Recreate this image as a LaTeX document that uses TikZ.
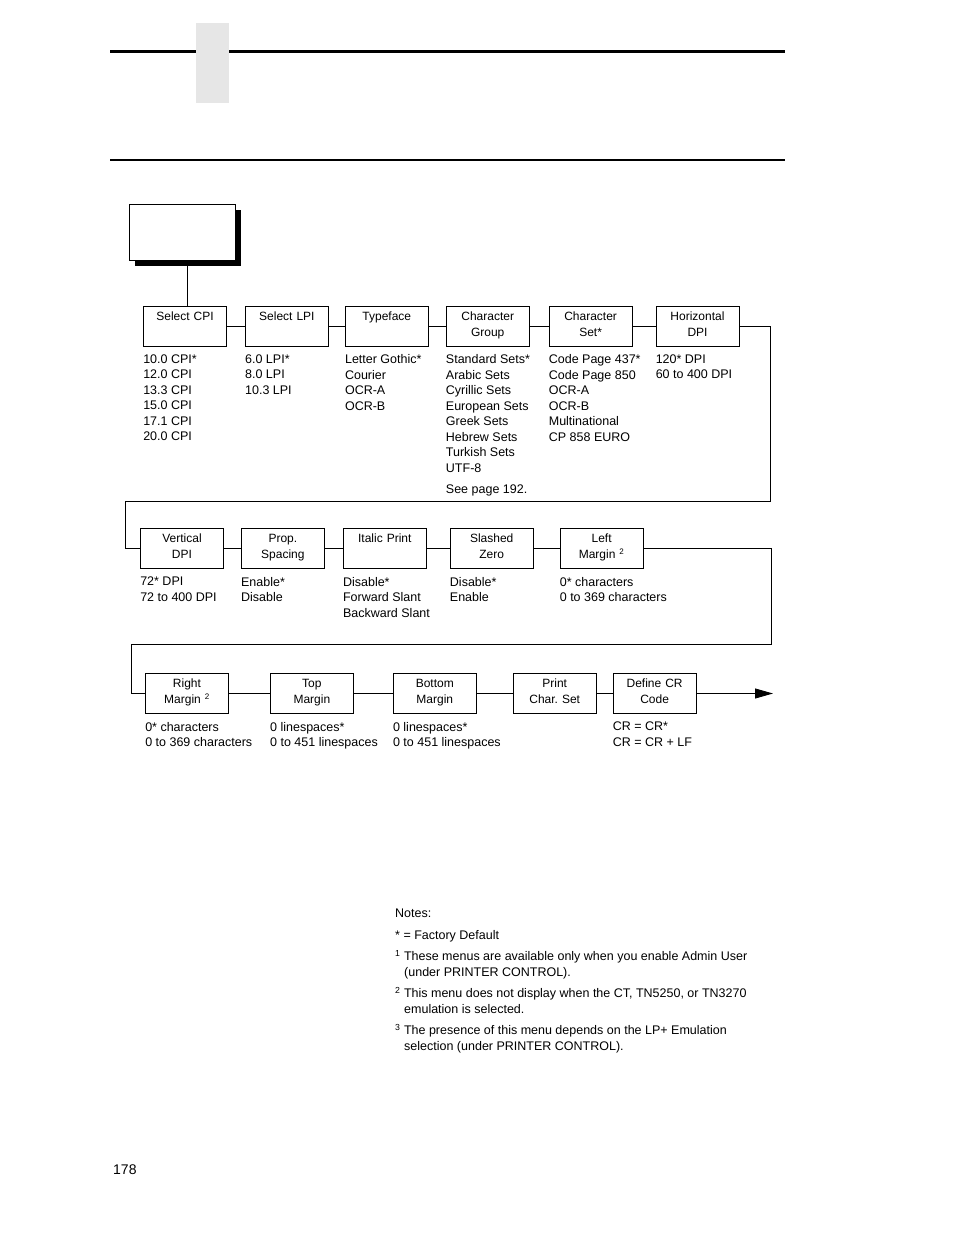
\documentclass[tikz,border=0pt]{standalone}
\usepackage{fontspec}
\setmainfont{Liberation Sans}
\usepackage{tikz}
\usetikzlibrary{positioning,shadows,arrows.meta}
\definecolor{tabgray}{HTML}{E6E6E6}
\frenchspacing

\begin{document}
\begin{tikzpicture}
 [x=1pt, y=-1pt,
  menu box/.style={draw, line width=0.9pt, text width=75pt, align=center, inner xsep=4pt, inner ysep=4pt,
    text height=10pt, text depth=22pt, font=\fontsize{12}{16}\selectfont},
  option list/.style={align=left, inner sep=0pt, font=\fontsize{12.5}{15.5}\selectfont},
  link/.style={line width=0.9pt}]

\useasboundingbox (0,0) rectangle (954,1235);

% page header
\draw[line width=3pt] (110,51) -- (785,51);
\fill[tabgray] (196,23) rectangle (229,103);
\draw[line width=1.2pt] (110,160) -- (785,160);

\node[draw, fill=white, line width=0.9pt, minimum width=106pt, minimum height=56pt,
  drop shadow={shadow xshift=6pt, shadow yshift=-6pt, fill=black, opacity=1}] (menu) at (182,232) {};

% first row
\node[menu box] (cpi) at (185,326) {Select CPI};
\node[menu box] (lpi) [right=18pt of cpi] {Select LPI};
\node[menu box] (type) [right=16pt of lpi] {Typeface};
\node[menu box] (cgroup) [right=17pt of type] {Character\\Group};
\node[menu box] (cset) [right=19pt of cgroup] {Character\\Set*};
\node[menu box] (hdpi) [right=23pt of cset] {Horizontal\\DPI};

\node[option list] (cpiopt) [below=8pt of cpi.south west, anchor=north west] {10.0 CPI*\\12.0 CPI\\13.3 CPI\\15.0 CPI\\17.1 CPI\\20.0 CPI};
\node[option list] (lpiopt) [below=8pt of lpi.south west, anchor=north west] {6.0 LPI*\\8.0 LPI\\10.3 LPI};
\node[option list] (typeopt) [below=8pt of type.south west, anchor=north west] {Letter Gothic*\\Courier\\OCR-A\\OCR-B};
\node[option list] (cgroupopt) [below=8pt of cgroup.south west, anchor=north west] {Standard Sets*\\Arabic Sets\\Cyrillic Sets\\European Sets\\Greek Sets\\Hebrew Sets\\Turkish Sets\\UTF-8\\[6pt]See page 192.};
\node[option list] (csetopt) [below=8pt of cset.south west, anchor=north west] {Code Page 437*\\Code Page 850\\OCR-A\\OCR-B\\Multinational\\CP 858 EURO};
\node[option list] (hdpiopt) [below=8pt of hdpi.south west, anchor=north west] {120* DPI\\60 to 400 DPI};

% second row
\node[menu box] (vdpi) at (182,548.5) {Vertical\\DPI};
\node[menu box] (prop) [right=17pt of vdpi] {Prop.\\Spacing};
\node[menu box] (italic) [right=18pt of prop] {Italic Print};
\node[menu box] (slashed) [right=23pt of italic] {Slashed\\Zero};
\node[menu box] (lmargin) [right=26pt of slashed] {Left\\Margin \textsuperscript{2}};

\node[option list] (vdpiopt) [below=8pt of vdpi.south west, anchor=north west] {72* DPI\\72 to 400 DPI};
\node[option list] (propopt) [below=8pt of prop.south west, anchor=north west] {Enable*\\Disable};
\node[option list] (italicopt) [below=8pt of italic.south west, anchor=north west] {Disable*\\Forward Slant\\Backward Slant};
\node[option list] (slashedopt) [below=8pt of slashed.south west, anchor=north west] {Disable*\\Enable};
\node[option list] (lmarginopt) [below=8pt of lmargin.south west, anchor=north west] {0* characters\\0 to 369 characters};

% third row
\node[menu box] (rmargin) at (187,693.5) {Right\\Margin \textsuperscript{2}};
\node[menu box] (top) [right=41pt of rmargin] {Top\\Margin};
\node[menu box] (bottom) [right=39pt of top] {Bottom\\Margin};
\node[menu box] (print) [right=36pt of bottom] {Print\\Char. Set};
\node[menu box] (crcode) [right=16pt of print] {Define CR\\Code};

\node[option list] (rmarginopt) [below=8pt of rmargin.south west, anchor=north west] {0* characters\\0 to 369 characters};
\node[option list] (topopt) [below=8pt of top.south west, anchor=north west] {0 linespaces*\\0 to 451 linespaces};
\node[option list] (bottomopt) [below=8pt of bottom.south west, anchor=north west] {0 linespaces*\\0 to 451 linespaces};
\node[option list] (crcodeopt) [below=8pt of crcode.south west, anchor=north west] {CR = CR*\\CR = CR + LF};

\coordinate (more) at (773,693.5);

\draw[link] ([xshift=5pt]menu.south) -- ([xshift=2pt]cpi.north);
\path[link]
  (cpi) edge (lpi)
  (lpi) edge (type)
  (type) edge (cgroup)
  (cgroup) edge (cset)
  (cset) edge (hdpi)
  (vdpi) edge (prop)
  (prop) edge (italic)
  (italic) edge (slashed)
  (slashed) edge (lmargin)
  (rmargin) edge (top)
  (top) edge (bottom)
  (bottom) edge (print)
  (print) edge (crcode);
\draw[link] (hdpi.east) -| (770,501) -| (125,548.5) -- (vdpi.west);
\draw[link] (lmargin.east) -| (771,644) -| (131,693.5) -- (rmargin.west);
\draw[link, -{Triangle[length=18pt, width=10pt]}] (crcode.east) -- (more);

% notes
\node[option list, anchor=north west] (notes) at (395,909)
  {Notes:\\[6pt]
   * = Factory Default\\[6pt]
   \textsuperscript{1} These menus are available only when you enable Admin User\\
   \hspace*{9pt}(under PRINTER CONTROL).\\[6pt]
   \textsuperscript{2} This menu does not display when the CT, TN5250, or TN3270\\
   \hspace*{9pt}emulation is selected.\\[6pt]
   \textsuperscript{3} The presence of this menu depends on the LP+ Emulation\\
   \hspace*{9pt}selection (under PRINTER CONTROL).};

\node[font=\fontsize{14}{16}\selectfont, anchor=west, inner sep=0pt] (pageno) at (113,1170) {178};

\end{tikzpicture}
\end{document}
